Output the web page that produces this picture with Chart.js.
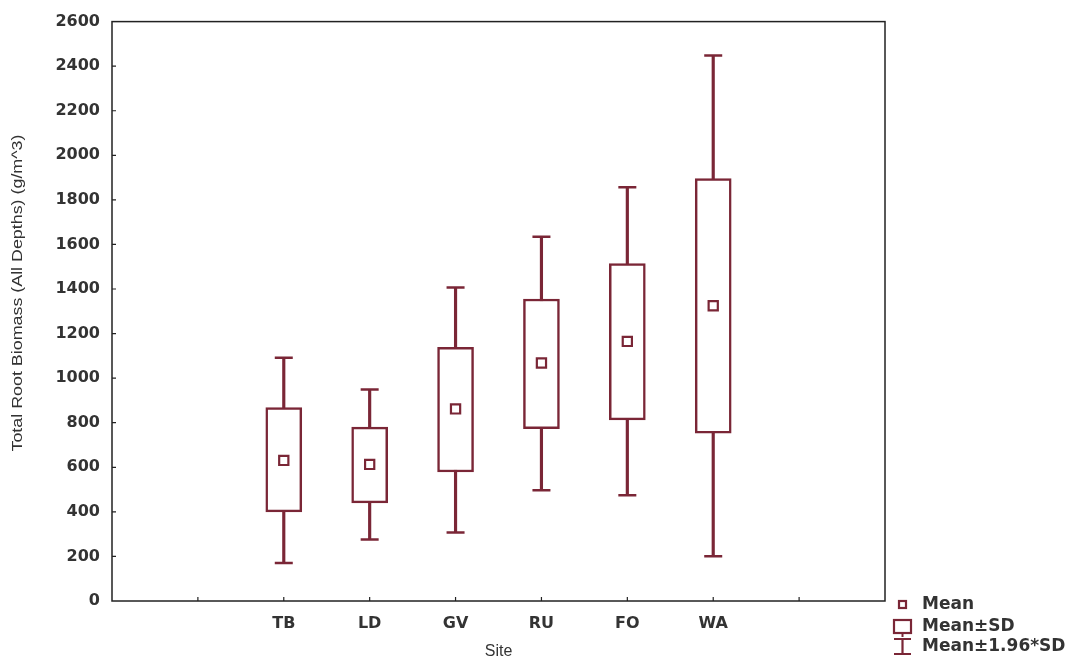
<!DOCTYPE html>
<html>
<head>
<meta charset="utf-8">
<script src="https://cdn.jsdelivr.net/npm/chart.js@4/dist/chart.umd.min.js"></script>
<style>
  html, body { margin: 0; padding: 0; background: #fff; }
  #wrap { width: 1078px; height: 661px; }
</style>
</head>
<body>
<div id="wrap"><canvas id="rootChart" width="1078" height="661"></canvas></div>
<script>
// sites and their slot on the x axis (axis runs 0..9)
const sites = ['TB', 'LD', 'GV', 'RU', 'FO', 'WA'];
const sitePos = [2, 3, 4, 5, 6, 7];

// values (g/m^3)
const means  = [631, 613, 862, 1068, 1165, 1325];
const sdLow  = [400, 440, 579, 773, 813, 753];
const sdHigh = [868, 780, 1138, 1355, 1514, 1896];
const ciLow  = [171, 276, 307, 497, 474, 201];
const ciHigh = [1092, 949, 1407, 1635, 1857, 2448];

const yTitle = 'Total Root Biomass (All Depths) (g/m^3)';
const maroon = '#7a2636';
const textCol = '#333';

// frame, inward tick marks, y title and the legend
const frame = {
    id: 'frame',
    afterDraw(chart) {
        const { ctx, chartArea: a, scales: { x, y } } = chart;
        ctx.save();
        ctx.strokeStyle = '#222';
        ctx.lineWidth = 1.5;
        ctx.strokeRect(a.left, a.top, a.right - a.left, a.bottom - a.top);

        ctx.lineWidth = 1.2;
        ctx.beginPath();
        for (let v = 1; v <= 8; v++) {
            const px = x.getPixelForValue(v);
            ctx.moveTo(px, a.bottom);
            ctx.lineTo(px, a.bottom - 4);
        }
        for (let v = 200; v < 2600; v += 200) {
            const py = y.getPixelForValue(v);
            ctx.moveTo(a.left, py);
            ctx.lineTo(a.left + 4, py);
        }
        ctx.stroke();

        // y title, stretched a bit along its length like the original
        ctx.save();
        ctx.translate(18, 293);
        ctx.rotate(-Math.PI / 2);
        ctx.font = '14px "Liberation Sans"';
        ctx.fillStyle = textCol;
        ctx.textAlign = 'center';
        ctx.textBaseline = 'middle';
        const w = ctx.measureText(yTitle).width;
        ctx.scale(317 / w, 1);
        ctx.fillText(yTitle, 0, 0);
        ctx.restore();

        // legend
        ctx.strokeStyle = maroon;
        ctx.fillStyle = maroon;
        ctx.lineWidth = 2.2;
        ctx.strokeRect(899, 601, 7, 7);
        ctx.strokeRect(894, 620, 17, 13);
        ctx.fillRect(901.5, 633, 2, 4);
        ctx.beginPath();
        ctx.moveTo(894, 639); ctx.lineTo(911, 639);
        ctx.moveTo(902.5, 639); ctx.lineTo(902.5, 654);
        ctx.moveTo(894, 654); ctx.lineTo(911, 654);
        ctx.stroke();

        ctx.fillStyle = textCol;
        ctx.font = 'bold 17px "DejaVu Sans"';
        ctx.textBaseline = 'middle';
        ctx.textAlign = 'left';
        ctx.fillText('Mean', 922, 605);
        ctx.fillText('Mean\u00b1SD', 922, 627);
        ctx.fillText('Mean\u00b11.96*SD', 922, 647);
        ctx.restore();
    }
};

const config = {
    type: 'bar',
    data: {
        datasets: [
            {
                // whisker stems, drawn underneath the boxes
                label: 'Mean\u00b11.96*SD',
                data: sitePos.map((p, i) => ({ x: p, y: [ciLow[i], ciHigh[i]] })),
                backgroundColor: maroon,
                borderWidth: 0,
                barThickness: 2.5,
                grouped: false,
                order: 4
            },
            {
                label: 'Mean\u00b1SD',
                data: sitePos.map((p, i) => ({ x: p, y: [sdLow[i], sdHigh[i]] })),
                backgroundColor: '#fff',
                borderColor: maroon,
                borderWidth: 2.5,
                borderSkipped: false,
                barThickness: 36,
                grouped: false,
                order: 3
            },
            {
                // whisker caps
                type: 'scatter',
                label: 'caps',
                data: sitePos.flatMap((p, i) => [{ x: p, y: ciLow[i] }, { x: p, y: ciHigh[i] }]),
                pointStyle: 'line',
                pointRadius: 9,
                borderColor: maroon,
                borderWidth: 2.5,
                order: 2
            },
            {
                type: 'scatter',
                label: 'Mean',
                data: sitePos.map((p, i) => ({ x: p, y: means[i] })),
                pointStyle: 'rect',
                pointRadius: 6.5,
                backgroundColor: '#fff',
                borderColor: maroon,
                borderWidth: 2.2,
                order: 1
            }
        ]
    },
    options: {
        responsive: false,
        animation: false,
        layout: { padding: { top: 20, right: 193, left: 0, bottom: 0 } },
        scales: {
            x: {
                type: 'linear',
                min: 0,
                max: 9,
                offset: false,
                afterFit: (s) => { s.height = 60; },
                grid: { display: false, drawTicks: false, offset: false },
                border: { display: false },
                ticks: {
                    stepSize: 1,
                    autoSkip: false,
                    maxRotation: 0,
                    padding: 13,
                    color: textCol,
                    font: { family: '"DejaVu Sans"', size: 16, weight: 'bold' },
                    callback: (v) => {
                        const i = sitePos.indexOf(v);
                        return i >= 0 ? sites[i] : '';
                    }
                },
                title: {
                    display: true,
                    text: 'Site',
                    color: textCol,
                    padding: { top: 3, bottom: 0 },
                    font: { family: '"Liberation Sans"', size: 16 }
                }
            },
            y: {
                min: 0,
                max: 2600,
                afterFit: (s) => { s.width = 112; },
                grid: { display: false, drawTicks: false },
                border: { display: false },
                ticks: {
                    stepSize: 200,
                    padding: 12,
                    color: textCol,
                    font: { family: '"DejaVu Sans"', size: 16, weight: 'bold' },
                    callback: (v) => String(v)
                }
            }
        },
        plugins: {
            legend: { display: false },
            tooltip: { enabled: false }
        }
    },
    plugins: [frame]
};

new Chart(document.getElementById('rootChart'), config);
</script>
</body>
</html>
